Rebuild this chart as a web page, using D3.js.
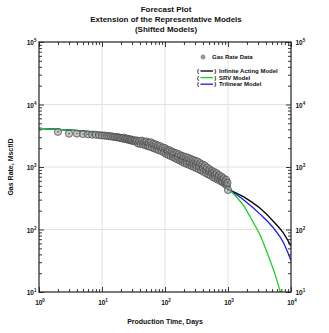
<!DOCTYPE html>
<html>
<head>
<meta charset="utf-8">
<script src="https://cdn.jsdelivr.net/npm/d3@7"></script>
<style>
  html, body { margin: 0; padding: 0; background: #fff; }
  svg { display: block; font-family: "Liberation Sans", Arial, sans-serif; font-weight: bold; }
</style>
</head>
<body>
<svg id="chart" width="329" height="333"></svg>
<script>
// Observed gas rate (days, Mscf/D)
const dataDays = [2,3,4,5,6,7,8,9,10,11,12,13,14,15,16,17,18,19,
  20,21,22,23,24,25,26,27,28,29,30,31.5,33,34.5,
  36,37.5,39,41,43,45,47,49,51,53,55,57,60,62,65,68,71,74,77,80,84,88,92,96,
  100,104,108,110,113,118,123,128,134,135,140,146,152,159,160,166,173,180,188,190,196,
  205,214,220,223,233,243,250,254,265,277,280,289,302,310,315,329,344,350,359,375,392,
  400,409,427,446,450,466,487,500,508,531,554,560,579,605,620,632,660,689,700,720,752,
  785,800,820,856,894,900,934,960,980,1000];
const dataRate = [3650,3420,3430,3380,3340,3300,3280,3240,3200,3180,3150,3120,3090,3060,3030,3000,2980,2950,
  2920,2860,2950,2800,2870,2760,2820,2700,2780,2650,2720,2600,2680,2540,
  2650,2380,2600,2330,2640,2300,2520,2220,2560,2180,2450,2120,2480,2060,2350,1980,2300,1930,2200,1850,2150,1800,2050,1720,
  2000,1620,1900,1750,1560,1850,1500,1760,1440,1580,1700,1380,1650,1320,1450,1600,1270,1520,1210,1330,1480,
  1160,1440,1250,1120,1400,1080,1180,1350,1040,1300,1120,1000,1260,1080,960,1220,920,1020,1150,880,1100,
  960,840,1050,800,900,980,760,850,920,730,870,790,690,830,740,660,790,630,680,740,600,
  700,620,570,660,540,580,620,510,560,430];

// History match shared by all models up to 1000 days
const matchDays = [1,2,3,5,10,20,50,100,200,500,1000];
const matchRate = [4150,4000,3900,3750,3450,3050,2350,1800,1300,820,450];

// Forecast extensions beyond 1000 days
const infiniteDays = [1000,1800,3200,5600,7500,10000];
const infiniteRate = [450,330,220,126,89,54];
const srvDays = [1000,1330,1800,2400,3200,4200,5600,7500];
const srvRate = [450,340,235,141,83,42,19,7];
const trilinearDays = [1000,1800,3200,5600,7500,10000];
const trilinearRate = [450,295,178,98,63,32];

const xDecades = [1,10,100,1000,10000];
const yDecades = [10,100,1000,10000,100000];
const titleLines = ["Forecast Plot","Extension of the Representative Models","(Shifted Models)"];

const svg = d3.select("#chart");
const plotLeft = 39, plotRight = 291, plotTop = 42, plotBottom = 292;

const x = d3.scaleLog().domain([1, 10000]).range([plotLeft, plotRight]);
const y = d3.scaleLog().domain([10, 100000]).range([plotBottom, plotTop]);

// Minor ticks: 2..9 within each decade
function minors(decades) {
  const out = [];
  decades.slice(0, -1).forEach(d => { for (let k = 2; k <= 9; k++) out.push(d * k); });
  return out;
}

// Title
svg.selectAll("text.title").data(titleLines).enter().append("text")
  .attr("class", "title")
  .attr("x", 166).attr("y", (d, i) => 12 + i * 10)
  .attr("text-anchor", "middle").attr("font-size", 8).attr("fill", "#111")
  .text(d => d);

// Grid lines at decades
const grid = svg.append("g").attr("stroke", "#e2e2e2").attr("stroke-width", 1);
xDecades.slice(1, -1).forEach(v => grid.append("line").attr("x1", x(v)).attr("x2", x(v)).attr("y1", plotTop).attr("y2", plotBottom));
yDecades.slice(1, -1).forEach(v => grid.append("line").attr("y1", y(v)).attr("y2", y(v)).attr("x1", plotLeft).attr("x2", plotRight));

// Clip region for plot content
svg.append("clipPath").attr("id", "plotclip").append("rect")
  .attr("x", plotLeft).attr("y", plotTop).attr("width", plotRight - plotLeft).attr("height", plotBottom - plotTop);

const plot = svg.append("g").attr("clip-path", "url(#plotclip)");

const line = d3.line().x(d => x(d[0])).y(d => y(d[1])).curve(d3.curveMonotoneX);
const zip = (a, b) => a.map((v, i) => [v, b[i]]);

const series = [
  { days: matchDays.concat(infiniteDays.slice(1)), rate: matchRate.concat(infiniteRate.slice(1)), color: "#000000" },
  { days: matchDays.concat(trilinearDays.slice(1)), rate: matchRate.concat(trilinearRate.slice(1)), color: "#1a1ae6" },
  { days: matchDays.concat(srvDays.slice(1)), rate: matchRate.concat(srvRate.slice(1)), color: "#22cc22" }
];
series.forEach(s => {
  plot.append("path").datum(zip(s.days, s.rate)).attr("d", line)
    .attr("fill", "none").attr("stroke", s.color).attr("stroke-width", 1.3);
});

// Rate data markers
const pts = plot.append("g").selectAll("g").data(zip(dataDays, dataRate)).enter().append("g")
  .attr("transform", d => `translate(${x(d[0])},${y(d[1])})`);
pts.append("circle").attr("r", 3.6).attr("fill", "#999").attr("fill-opacity", 0.55)
  .attr("stroke", "#4a4a4a").attr("stroke-opacity", 0.85).attr("stroke-width", 0.9);
pts.append("circle").attr("r", 0.8).attr("fill", "#555");

// Axes with inward ticks on all four sides
const axes = svg.append("g").attr("color", "#222");
function addAxis(gen, scale, tx, ty, values, size) {
  axes.append("g").attr("transform", `translate(${tx},${ty})`)
    .call(gen(scale).tickValues(values).tickSize(size).tickFormat(""))
    .call(g => g.select(".domain").remove())
    .selectAll("line").attr("stroke-width", 0.9);
}
[[xDecades, 5], [minors(xDecades), 3]].forEach(([vals, s]) => {
  addAxis(d3.axisBottom, x, 0, plotBottom, vals, -s);
  addAxis(d3.axisTop, x, 0, plotTop, vals, -s);
});
[[yDecades, 5], [minors(yDecades), 3]].forEach(([vals, s]) => {
  addAxis(d3.axisLeft, y, plotLeft, 0, vals, -s);
  addAxis(d3.axisRight, y, plotRight, 0, vals, -s);
});
svg.append("rect").attr("x", plotLeft).attr("y", plotTop).attr("width", plotRight - plotLeft).attr("height", plotBottom - plotTop)
  .attr("fill", "none").attr("stroke", "#222").attr("stroke-width", 1.2);

// Power-of-ten labels
function powLabel(g, v) {
  const e = Math.round(Math.log10(v));
  g.append("tspan").text("10");
  g.append("tspan").attr("font-size", 4.5).attr("dy", -3).text(e);
}
xDecades.forEach(v => {
  const t = svg.append("text").attr("x", x(v) + 1).attr("y", 304.5)
    .attr("text-anchor", "middle").attr("font-size", 6.5).attr("fill", "#111");
  powLabel(t, v);
});
yDecades.forEach(v => {
  const t = svg.append("text").attr("x", 36.5).attr("y", y(v) + 3)
    .attr("text-anchor", "end").attr("font-size", 6.5).attr("fill", "#111");
  powLabel(t, v);
  const r = svg.append("text").attr("x", 295.5).attr("y", y(v) + 3)
    .attr("text-anchor", "start").attr("font-size", 6.5).attr("fill", "#111");
  powLabel(r, v);
});

// Axis titles
svg.append("text").attr("x", 165).attr("y", 324).attr("text-anchor", "middle")
  .attr("font-size", 7).attr("fill", "#111").text("Production Time, Days");
svg.append("text").attr("transform", `translate(13,${(plotTop + plotBottom) / 2}) rotate(-90)`)
  .attr("text-anchor", "middle").attr("font-size", 7).attr("fill", "#111").text("Gas Rate, Mscf/D");

// Legend
const lg = svg.append("g").attr("font-size", 6).attr("fill", "#111");
lg.append("circle").attr("cx", 203).attr("cy", 57).attr("r", 2.2).attr("fill", "#999").attr("stroke", "#888").attr("stroke-width", 0.5);
lg.append("text").attr("x", 212).attr("y", 59).text("Gas Rate Data");
const legendItems = [
  { name: "Infinite Acting Model", color: "#000000" },
  { name: "SRV Model", color: "#22cc22" },
  { name: "Trilinear Model", color: "#1a1ae6" }
];
legendItems.forEach((d, i) => {
  const cy = 71 + i * 6.6;
  lg.append("text").attr("x", 197).attr("y", cy + 2).text("(");
  lg.append("line").attr("x1", 200.5).attr("x2", 213).attr("y1", cy).attr("y2", cy)
    .attr("stroke", d.color).attr("stroke-width", 1.3);
  lg.append("text").attr("x", 214.2).attr("y", cy + 2).text(")");
  lg.append("text").attr("x", 219).attr("y", cy + 2).text(d.name);
});
</script>
</body>
</html>
